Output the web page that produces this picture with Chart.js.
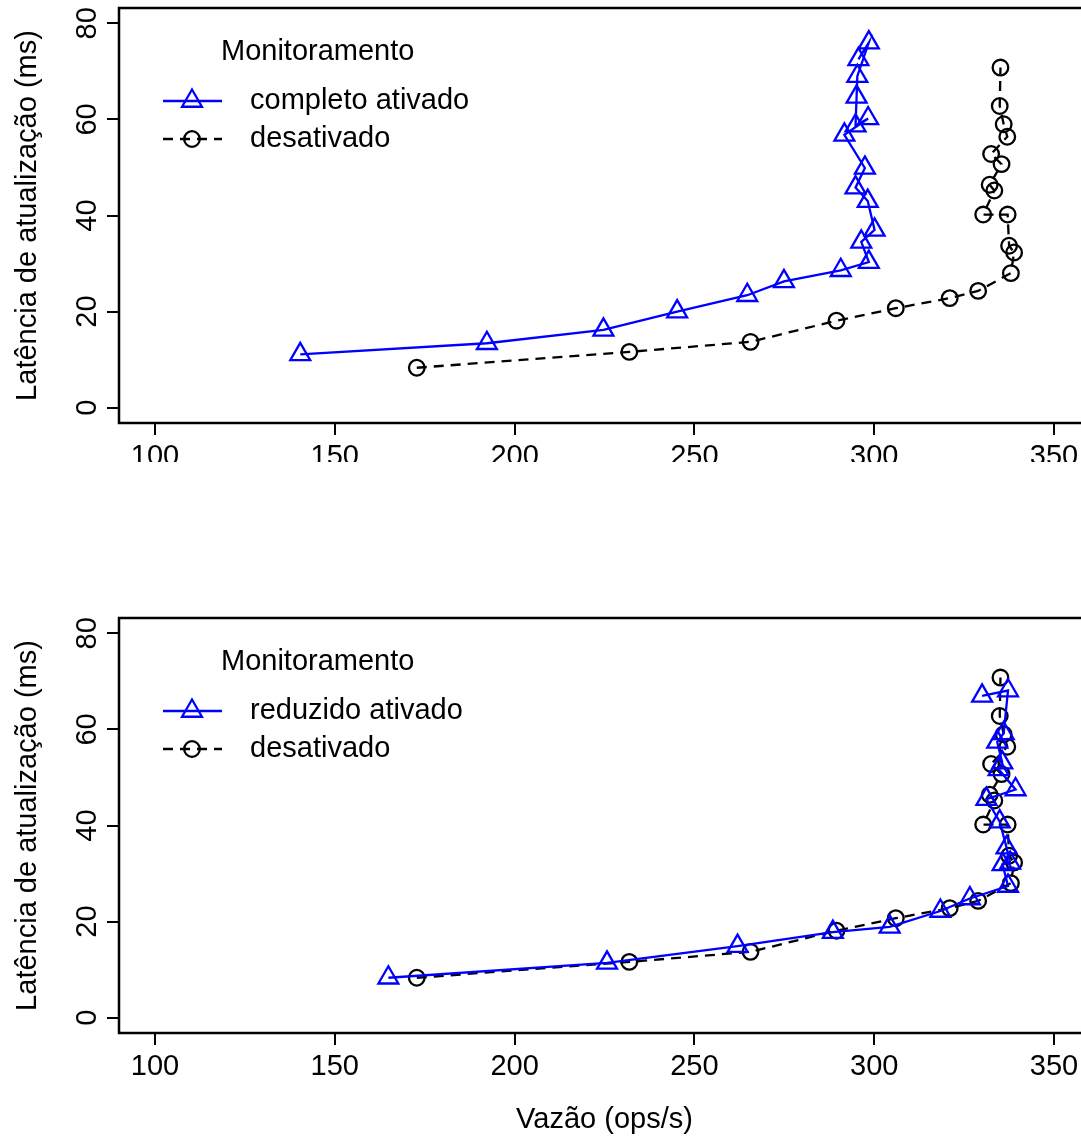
<!DOCTYPE html>
<html>
<head>
<meta charset="utf-8">
<script src="https://cdn.jsdelivr.net/npm/chart.js@4.4.1/dist/chart.umd.min.js"></script>
<style>
  html, body { margin: 0; padding: 0; background: #fff; overflow: hidden; }
  #pagina { position: relative; width: 1081px; height: 1146px; overflow: hidden; background: #fff; }
  .painel { position: absolute; left: 0; width: 1081px; overflow: hidden; }
  #painel1 { top: 0; height: 462px; }
  #painel2 { top: 610px; height: 536px; }
  canvas { display: block; }
</style>
</head>
<body>
<div id="pagina">
  <div class="painel" id="painel1"><canvas id="grafico1" width="1100" height="560"></canvas></div>
  <div class="painel" id="painel2"><canvas id="grafico2" width="1100" height="536"></canvas></div>
</div>
<script>
// vazão (ops/s) e latência de atualização (ms), uma entrada por rodada
var completoVazao = [140.4, 192.3, 224.7, 245.2, 264.7, 274.9, 290.7, 298.5, 296.4, 300.1, 298.2, 294.8, 297.4, 291.7, 298.3, 294.8, 295.1, 295.3, 298.5, 295.6];
var completoLatencia = [11.1, 13.4, 16.2, 20.0, 23.4, 26.3, 28.6, 30.3, 34.5, 37.0, 43.0, 45.8, 49.9, 56.8, 60.2, 58.7, 64.7, 69.0, 76.0, 72.5];

var reduzidoVazao = [164.9, 225.7, 262.0, 288.5, 304.3, 318.4, 326.6, 337.2, 335.7, 337.8, 336.8, 334.9, 331.2, 339.3, 334.6, 335.6, 334.2, 336.0, 337.2, 330.0];
var reduzidoLatencia = [8.3, 11.4, 14.9, 17.8, 18.9, 22.2, 24.8, 27.4, 31.9, 32.2, 35.4, 40.8, 45.5, 47.5, 51.7, 53.1, 57.4, 59.2, 68.1, 67.0];

var desativadoVazao = [172.8, 231.9, 265.6, 289.5, 306.0, 321.0, 328.9, 338.0, 338.9, 337.5, 337.1, 330.3, 333.4, 332.1, 335.4, 332.5, 337.0, 336.0, 334.9, 335.1];
var desativadoLatencia = [8.3, 11.6, 13.7, 18.1, 20.7, 22.8, 24.3, 28.0, 32.3, 33.7, 40.2, 40.2, 45.2, 46.4, 50.7, 52.8, 56.4, 59.0, 62.8, 70.8];

var ticksVazao = [100, 150, 200, 250, 300, 350];
var ticksLatencia = [0, 20, 40, 60, 80];

var fonte = '"Liberation Sans", Arial, Helvetica, sans-serif';
Chart.defaults.font.family = fonte;
Chart.defaults.font.size = 29;
Chart.defaults.color = "#000";

function pontos(xs, ys) {
  return xs.map(function (x, i) {
    return { x: x, y: ys[i] };
  });
}

// desenha o marcador do jeito do R: triângulo (pch 2) ou círculo (pch 1)
function marcador(ctx, estilo, r, x, y) {
  ctx.beginPath();
  if (estilo === "triangle") {
    ctx.moveTo(x, y - r);
    ctx.lineTo(x + r * Math.sqrt(3) / 2, y + r / 2);
    ctx.lineTo(x - r * Math.sqrt(3) / 2, y + r / 2);
    ctx.closePath();
  } else {
    ctx.arc(x, y, r, 0, Math.PI * 2);
  }
  ctx.stroke();
}

// caixa em volta da área do gráfico
var moldura = {
  id: "moldura",
  afterDraw: function (chart) {
    var a = chart.chartArea;
    var ctx = chart.ctx;
    ctx.save();
    ctx.strokeStyle = "#000";
    ctx.lineWidth = 2.5;
    ctx.strokeRect(a.left, a.top, a.right - a.left, a.bottom - a.top);
    ctx.restore();
  },
};

// legenda dentro do gráfico, canto superior esquerdo
var legendaInterna = {
  id: "legendaInterna",
  afterDraw: function (chart) {
    var ctx = chart.ctx;
    ctx.save();
    ctx.font = "29px " + fonte;
    ctx.fillStyle = "#000";
    ctx.textBaseline = "middle";
    ctx.fillText("Monitoramento", 221, 52);
    chart.data.datasets.forEach(function (ds, i) {
      var y = 101 + i * 38;
      ctx.strokeStyle = ds.borderColor;
      ctx.lineWidth = ds.borderWidth;
      ctx.setLineDash(ds.borderDash || []);
      ctx.beginPath();
      ctx.moveTo(163, y);
      ctx.lineTo(222, y);
      ctx.stroke();
      ctx.setLineDash([]);
      marcador(ctx, ds.pointStyle, ds.pointRadius, 192, y);
      ctx.fillStyle = "#000";
      ctx.fillText(ds.label, 250, y);
    });
    ctx.restore();
  },
};

function criaGrafico(id, rotulo, vazao, latencia, comTituloX) {
  var canvas = document.getElementById(id);
  return new Chart(canvas.getContext("2d"), {
    type: "scatter",
    data: {
      datasets: [
        {
          label: rotulo,
          data: pontos(vazao, latencia),
          showLine: true,
          borderColor: "rgb(0, 0, 255)",
          borderWidth: 2.3,
          pointStyle: "triangle",
          pointRadius: 11.5,
          pointBorderWidth: 2.3,
          pointBackgroundColor: "rgba(0,0,0,0)",
          pointBorderColor: "rgb(0, 0, 255)",
          tension: 0,
        },
        {
          label: "desativado",
          data: pontos(desativadoVazao, desativadoLatencia),
          showLine: true,
          borderColor: "#000",
          borderWidth: 2.3,
          borderDash: [10, 7],
          pointStyle: "circle",
          pointRadius: 7.8,
          pointBorderWidth: 2.3,
          pointBackgroundColor: "rgba(0,0,0,0)",
          pointBorderColor: "#000",
          tension: 0,
        },
      ],
    },
    options: {
      responsive: false,
      animation: false,
      events: [],
      layout: { autoPadding: false, padding: { top: 8, right: 10, left: 0, bottom: 0 } },
      plugins: { legend: { display: false }, tooltip: { enabled: false } },
      scales: {
        x: {
          type: "linear",
          min: 90,
          max: 360,
          afterFit: function (scale) {
            scale.height = canvas.height - 423;
            scale.paddingLeft = 0;
            scale.paddingRight = 0;
          },
          afterBuildTicks: function (scale) {
            scale.ticks = ticksVazao.map(function (v) { return { value: v }; });
          },
          ticks: { padding: 5, maxRotation: 0, color: "#000" },
          grid: { drawOnChartArea: false, drawTicks: true, tickLength: 12, color: "#000", lineWidth: 2 },
          border: { display: false },
          title: {
            display: comTituloX,
            text: "Vazão (ops/s)",
            color: "#000",
            padding: { top: 0, bottom: 9 },
          },
        },
        y: {
          type: "linear",
          min: -3.2,
          max: 83.2,
          afterFit: function (scale) {
            scale.width = 119;
            scale.paddingTop = 0;
            scale.paddingBottom = 0;
          },
          afterBuildTicks: function (scale) {
            scale.ticks = ticksLatencia.map(function (v) { return { value: v }; });
          },
          ticks: { padding: 3, minRotation: 90, maxRotation: 90, crossAlign: "center", color: "#000" },
          grid: { drawOnChartArea: false, drawTicks: true, tickLength: 12, color: "#000", lineWidth: 2 },
          border: { display: false },
          title: {
            display: true,
            text: "Latência de atualização (ms)",
            color: "#000",
            padding: { top: 11, bottom: 0 },
          },
        },
      },
    },
    plugins: [moldura, legendaInterna],
  });
}

criaGrafico("grafico1", "completo ativado", completoVazao, completoLatencia, false);
criaGrafico("grafico2", "reduzido ativado", reduzidoVazao, reduzidoLatencia, true);
</script>
</body>
</html>
